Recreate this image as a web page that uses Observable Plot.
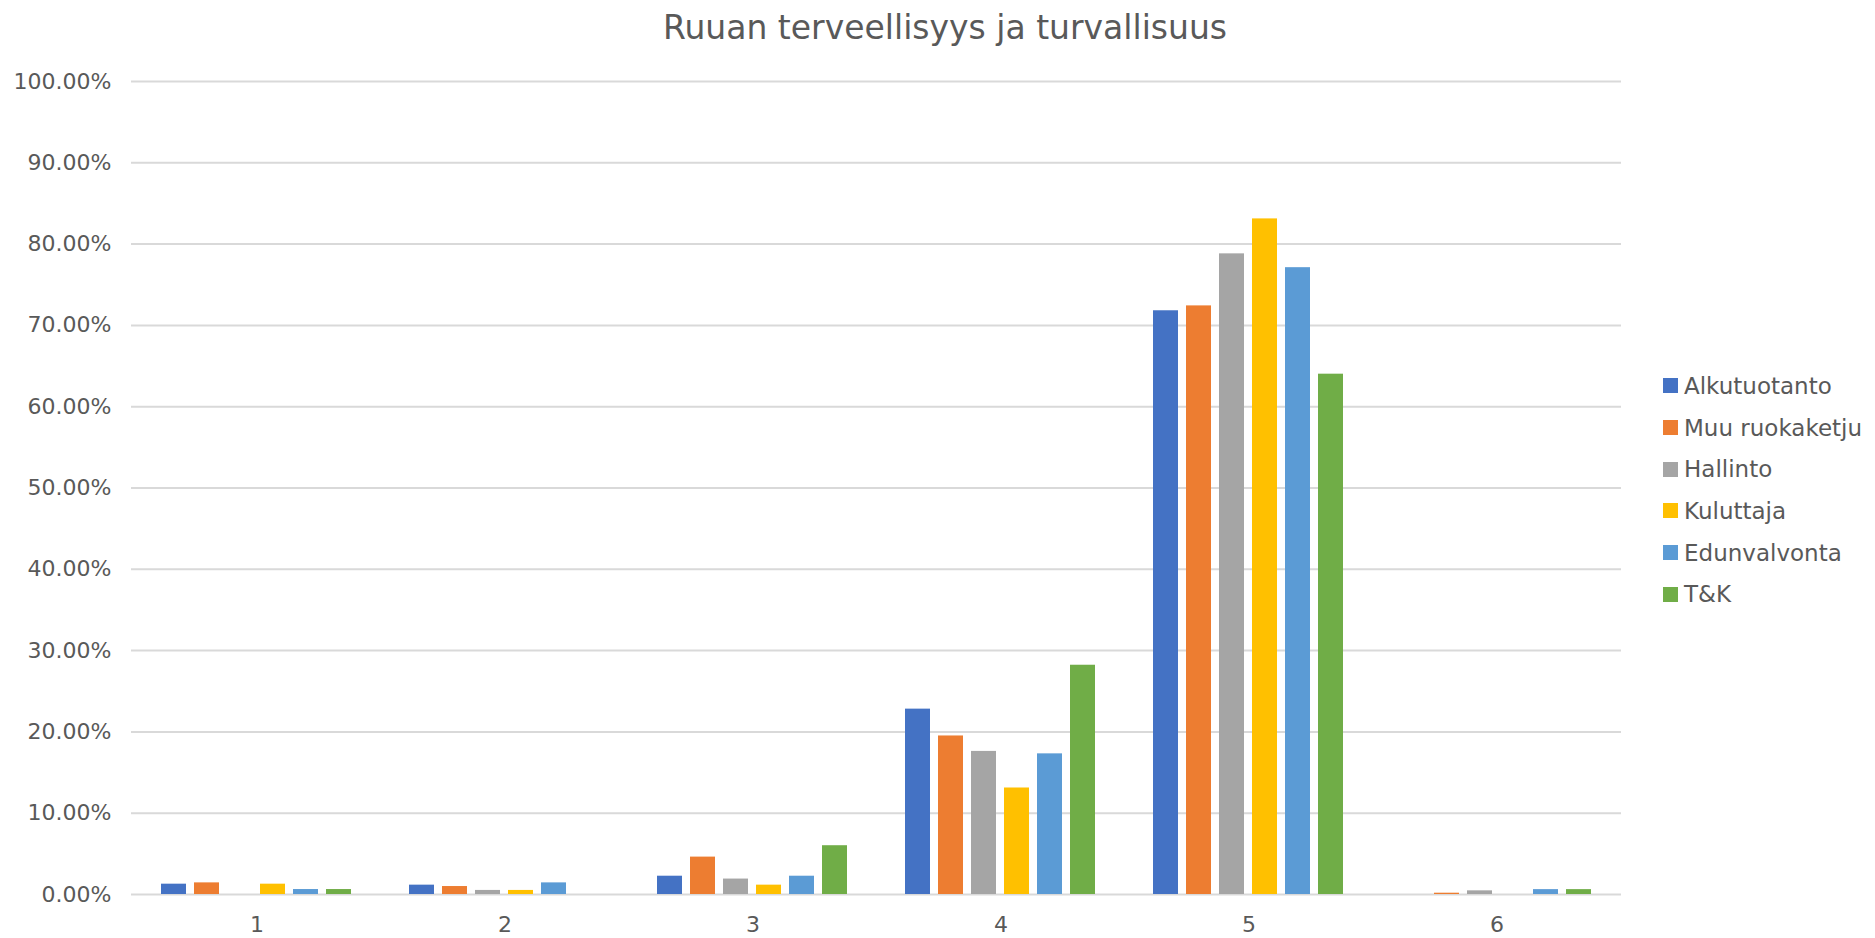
<!DOCTYPE html>
<html>
<head>
<meta charset="utf-8">
<script src="https://cdn.jsdelivr.net/npm/d3@7"></script>
<script src="https://cdn.jsdelivr.net/npm/@observablehq/plot@0.6"></script>
<style>
  html, body { margin: 0; padding: 0; background: #fff; }
  body { width: 1875px; height: 938px; position: relative; overflow: hidden; font-family: "DejaVu Sans", sans-serif; color: #595959; }
  #title { position: absolute; left: 0; width: 1890px; top: 11px; text-align: center; font-size: 33px; line-height: 33px; color: #595959; }
  .layer { position: absolute; left: 0; top: 0; }
  #legend { position: absolute; left: 1663px; top: 365px; }
  .item { display: flex; align-items: center; height: 41.7px; font-size: 23px; color: #595959; white-space: nowrap; }
  .sw { width: 15px; height: 15px; margin-right: 6px; flex: none; }
</style>
</head>
<body>
<div id="title">Ruuan terveellisyys ja turvallisuus</div>
<div id="bg" class="layer"></div>
<div id="fg" class="layer"></div>
<div id="legend"></div>
<script>
const groups = ["1", "2", "3", "4", "5", "6"];
const series = ["Alkutuotanto", "Muu ruokaketju", "Hallinto", "Kuluttaja", "Edunvalvonta", "T&K"];
const colors = ["#4472C4", "#ED7D31", "#A5A5A5", "#FFC000", "#5B9BD5", "#70AD47"];
const alkutuotanto = [1.27, 1.15, 2.25, 22.8, 71.8, 0];
const muuRuokaketju = [1.43, 0.98, 4.6, 19.5, 72.4, 0.16];
const hallinto = [0, 0.5, 1.9, 17.6, 78.8, 0.45];
const kuluttaja = [1.27, 0.5, 1.15, 13.1, 83.1, 0];
const edunvalvonta = [0.61, 1.43, 2.25, 17.3, 77.1, 0.6];
const tk = [0.61, 0, 6.0, 28.2, 64.0, 0.6];
const yTicks = [0, 10, 20, 30, 40, 50, 60, 70, 80, 90, 100];

const seriesValues = [alkutuotanto, muuRuokaketju, hallinto, kuluttaja, edunvalvonta, tk];
const data = [];
groups.forEach((g, gi) => {
  series.forEach((s, si) => {
    data.push({group: g, series: s, value: seriesValues[si][gi]});
  });
});

const W = 1875, H = 938;
const margins = {marginLeft: 131, marginRight: 254, marginTop: 81, marginBottom: 44};

const bg = Plot.plot({
  width: W, height: H, ...margins,
  style: {background: "transparent", color: "#595959", fontFamily: "DejaVu Sans, sans-serif"},
  y: {domain: [0, 100], label: null},
  marks: [
    Plot.gridY(yTicks, {stroke: "#D9D9D9", strokeOpacity: 1, strokeWidth: 2}),
    Plot.axisY(yTicks, {tickSize: 0, tickPadding: 20, tickFormat: d => d.toFixed(2) + "%", fontSize: 22, label: null})
  ]
});
document.getElementById("bg").appendChild(bg);

const fg = Plot.plot({
  width: W, height: H, ...margins,
  style: {background: "transparent", color: "#595959", fontFamily: "DejaVu Sans, sans-serif", fontSize: "22px"},
  fx: {domain: groups, paddingInner: 0.23, paddingOuter: 0.115, label: null, axis: "bottom", tickSize: 0, tickPadding: 22},
  x: {domain: series, axis: null, paddingInner: 0.23, paddingOuter: 0},
  y: {domain: [0, 100], axis: null},
  color: {domain: series, range: colors},
  marks: [
    Plot.barY(data, {fx: "group", x: "series", y: "value", fill: "series"})
  ]
});
document.getElementById("fg").appendChild(fg);

const legend = document.getElementById("legend");
series.forEach((s, i) => {
  const item = document.createElement("div");
  item.className = "item";
  const sw = document.createElement("span");
  sw.className = "sw";
  sw.style.background = colors[i];
  const t = document.createElement("span");
  t.textContent = s;
  item.appendChild(sw);
  item.appendChild(t);
  legend.appendChild(item);
});
</script>
</body>
</html>
